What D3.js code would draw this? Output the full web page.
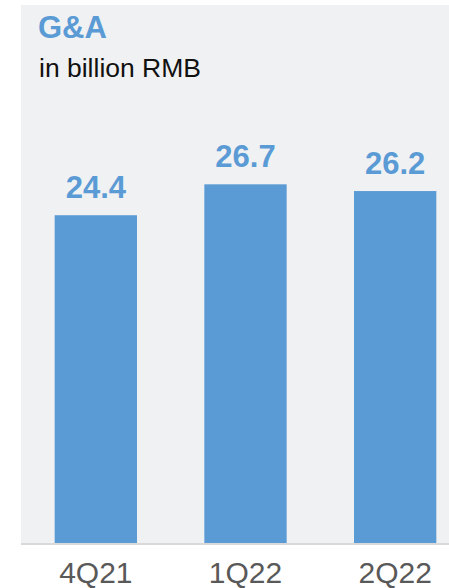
<!DOCTYPE html>
<html>
<head>
<meta charset="utf-8">
<script src="https://cdn.jsdelivr.net/npm/d3@7"></script>
<style>
  body { margin: 0; background: #fff; }
  svg { display: block; font-family: Arial, "Liberation Sans", sans-serif; }
</style>
</head>
<body>
<div id="chart"></div>
<script>
const quarters = ["4Q21", "1Q22", "2Q22"];
const values = [24.4, 26.7, 26.2];

const width = 449, height = 588;
const panel = { x: 21, y: 5, right: 449, bottom: 543 };

const svg = d3.select("#chart").append("svg")
  .attr("width", width)
  .attr("height", height);

// grey panel behind the chart
svg.append("rect")
  .attr("x", panel.x).attr("y", panel.y)
  .attr("width", panel.right - panel.x)
  .attr("height", panel.bottom - panel.y)
  .attr("fill", "#f0f1f3");

const x = d3.scaleBand()
  .domain(quarters)
  .range([21, 470])
  .paddingInner(0.45)
  .paddingOuter(0.225);

const y = d3.scaleLinear().domain([0, 30]).range([panel.bottom, 140]);

// bars
svg.selectAll(".bar")
  .data(values)
  .join("rect")
  .attr("class", "bar")
  .attr("x", (d, i) => x(quarters[i]))
  .attr("y", d => y(d))
  .attr("width", x.bandwidth())
  .attr("height", d => y(0) - y(d))
  .attr("fill", "#5b9bd5");

// value labels
svg.selectAll(".val")
  .data(values)
  .join("text")
  .attr("class", "val")
  .attr("x", (d, i) => x(quarters[i]) + x.bandwidth() / 2)
  .attr("y", d => y(d) - 17)
  .attr("text-anchor", "middle")
  .attr("font-size", 31)
  .attr("font-weight", "bold")
  .attr("fill", "#5b9bd5")
  .text(d => d.toFixed(1));

// baseline
svg.append("line")
  .attr("x1", panel.x).attr("x2", panel.right)
  .attr("y1", panel.bottom + 1).attr("y2", panel.bottom + 1)
  .attr("stroke", "#d9d9d9")
  .attr("stroke-width", 2);

// category labels
svg.selectAll(".cat")
  .data(quarters)
  .join("text")
  .attr("class", "cat")
  .attr("x", d => x(d) + x.bandwidth() / 2)
  .attr("y", 583)
  .attr("text-anchor", "middle")
  .attr("font-size", 30)
  .attr("fill", "#595959")
  .text(d => d);

// titles
svg.append("text")
  .attr("x", 38).attr("y", 38)
  .attr("font-size", 31)
  .attr("font-weight", "bold")
  .attr("fill", "#5b9bd5")
  .text("G&A");

svg.append("text")
  .attr("x", 39).attr("y", 77)
  .attr("font-size", 26.5)
  .attr("fill", "#111")
  .text("in billion RMB");
</script>
</body>
</html>
